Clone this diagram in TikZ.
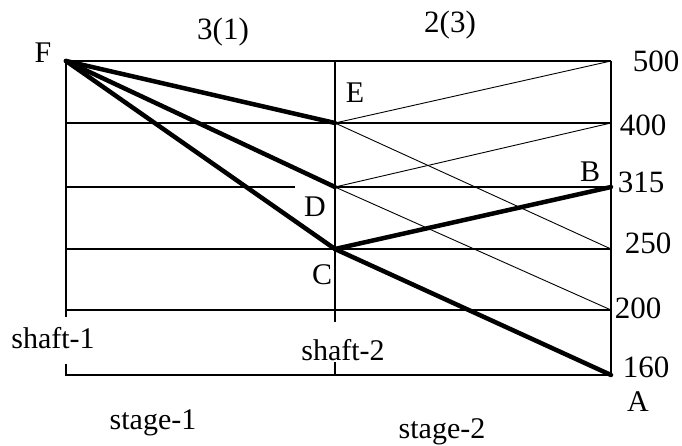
\documentclass[tikz,border=0pt]{standalone}
\usepackage{fontspec}
\setmainfont{Liberation Serif}
\usetikzlibrary{positioning}

\tikzset{
	grid/.style={line width=1.5pt},
	ray/.style={line width=0.9pt},
	speed/.style={line width=4.5pt, line cap=round},
	lbl/.style={inner sep=0pt, font=\fontsize{30}{32}\selectfont},
	num/.style={inner sep=0pt, font=\fontsize{31}{33}\selectfont}
}

\begin{document}
\begin{tikzpicture}[x=1pt, y=1pt]
		\useasboundingbox (0,0) rectangle (682,445);
		% points on the shafts
		\coordinate (F) at (66,384);
		\coordinate (E) at (335,322);
		\coordinate (D) at (335,258);
		\coordinate (C) at (335,196);
		\coordinate (r500) at (611,384);
		\coordinate (r400) at (611,322);
		\coordinate (B) at (611,258);
		\coordinate (r250) at (611,196);
		\coordinate (r200) at (611,135);
		\coordinate (A) at (611,70);
		% grid
		\draw[grid] (F) -- (r500);
		\draw[grid] (66,322) -- (r400);
		\draw[grid] (66,258) -- (295,258);
		\draw[grid] (D) -- (B);
		\draw[grid] (66,196) -- (r250);
		\draw[grid] (66,135) -- (r200);
		\draw[grid] (F) -- (66,128);
		\draw[grid] (335,384) -- (335,123);
		\draw[grid] (r500) -- (A);
		\draw[grid] (66,81) -- (66,70) -- (A);
		\draw[grid] (335,83) -- (335,70);
		% thin rays
		\draw[ray] (E) -- (r500);
		\draw[ray] (E) -- (r250);
		\draw[ray] (D) -- (r400);
		\draw[ray] (D) -- (r200);
		% chosen speeds
		\draw[speed] (F) -- (E);
		\draw[speed] (F) -- (D);
		\draw[speed] (F) -- (C);
		\draw[speed] (C) -- (B);
		\draw[speed] (C) -- (A);
		% labels
		\node[lbl] (lF) at (43,392) {F};
		\node[lbl] (lE) at (355,352) {E};
		\node[lbl] (lD) at (315,238) {D};
		\node[lbl] (lC) at (322,170) {C};
		\node[lbl] (lB) at (590,273) {B};
		\node[lbl] (lA) at (638,43) {A};
		\node[num] (g1) at (223,413) {3(1)};
		\node[num] (g2) at (450,420) {2(3)};
		\node[num] (n500) at (656,384) {500};
		\node[num] (n400) at (643,320) {400};
		\node[num] (n315) at (641,263) {315};
		\node[num] (n250) at (648,202) {250};
		\node[num] (n200) at (638,137) {200};
		\node[num] (n160) at (646,78) {160};
		\node[lbl] (s1) at (53,107) {shaft-1};
		\node[lbl] (s2) at (343,95) {shaft-2};
		\node[lbl] (st1) at (153,22) {stage-1};
		\node[lbl] (st2) at (442,13) {stage-2};
	\end{tikzpicture}
\end{document}
